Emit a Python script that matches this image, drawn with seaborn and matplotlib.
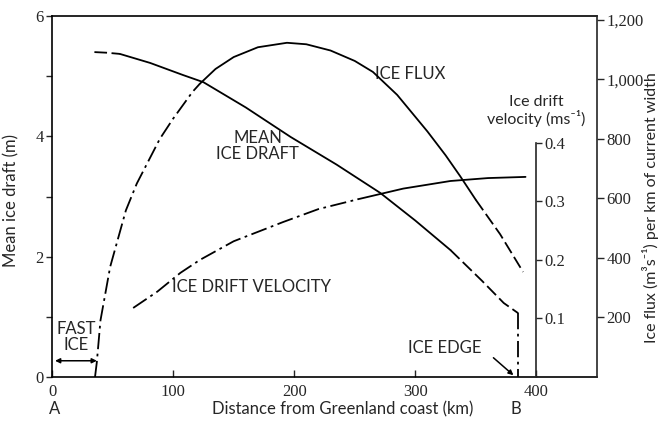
import matplotlib
matplotlib.use("Agg")
import matplotlib.pyplot as plt
from matplotlib.ticker import MultipleLocator, FixedLocator, FuncFormatter
import seaborn as sns

# Mean ice draft (m) vs distance from coast (km); last point is the drop at the ice edge
draft_km = [35, 45, 56, 81, 108, 125, 160, 197, 235, 271, 300, 329, 355, 373, 385, 385]
draft_m = [5.40, 5.39, 5.37, 5.22, 5.02, 4.90, 4.48, 3.99, 3.53, 3.06, 2.60, 2.11, 1.60, 1.23, 1.06, 0.0]

# Ice flux (m3 s-1 per km of current width)
flux_km = [35.5, 37, 40, 48, 61, 70, 89, 100, 116, 122, 135, 150, 170, 194, 210, 230,
           250, 265, 285, 310, 325, 337, 350, 370, 389]
flux = [0, 50, 190, 370, 560, 650, 800, 868, 958, 985, 1035, 1075, 1108, 1123, 1118, 1097,
        1062, 1025, 948, 825, 745, 675, 595, 480, 353]

# Ice drift velocity (m s-1)
vel_km = [67, 87, 106, 122, 150, 191, 220, 253, 290, 329, 360, 391]
vel = [0.118, 0.146, 0.178, 0.200, 0.232, 0.265, 0.287, 0.304, 0.322, 0.335, 0.340, 0.342]

x_ticks = [0, 100, 200, 300, 400]
draft_ticks = [0, 2, 4, 6]
flux_ticks = [200, 400, 600, 800, 1000, 1200]
vel_ticks = [0.1, 0.2, 0.3, 0.4]

sns.set_style("ticks")
plt.rcParams["font.family"] = ["Liberation Serif", "DejaVu Serif"]
sans = ["Lato", "DejaVu Sans"]

fig = plt.figure(figsize=(6.67, 4.21), dpi=100)
ax = fig.add_axes([0.078, 0.1045, 0.817, 0.8575])
ax_flux = ax.twinx()
ax_vel = ax.twinx()

dashdot = (0, (9, 2.5, 1.5, 2.5))
dashed = (0, (7, 2.5))
lw = 1.3


def piece(axis, xs, ys, ls):
    sns.lineplot(x=xs, y=ys, ax=axis, color="black", lw=lw, linestyle=ls,
                 sort=False, estimator=None)


# mean ice draft
piece(ax, draft_km[0:3], draft_m[0:3], dashed)
piece(ax, draft_km[2:12], draft_m[2:12], "-")
piece(ax, draft_km[11:15], draft_m[11:15], dashed)
piece(ax, draft_km[14:], draft_m[14:], dashdot)

# ice flux
piece(ax_flux, flux_km[0:10], flux[0:10], dashdot)
piece(ax_flux, flux_km[9:23], flux[9:23], "-")
piece(ax_flux, flux_km[22:], flux[22:], dashed)

# drift velocity
piece(ax_vel, vel_km[0:8], vel[0:8], dashdot)
piece(ax_vel, vel_km[7:], vel[7:], "-")

# limits
ax.set_xlim(0, 450)
ax.set_ylim(0, 6)
ax_flux.set_ylim(0, 1213)
ax_vel.set_ylim(0, 0.617)

# main axes
ax.set_xticks(x_ticks)
ax.set_yticks(draft_ticks)
ax.yaxis.set_minor_locator(MultipleLocator(1))
ax.tick_params(axis="x", direction="in", length=5, width=1, pad=5, labelsize=12)
ax.tick_params(axis="y", which="both", direction="out", length=4, width=1, pad=2, labelsize=12)
for s in ["left", "bottom", "top"]:
    ax.spines[s].set_linewidth(1.2)
    ax.spines[s].set_color("black")
ax.spines["right"].set_visible(False)
ax.set_xlabel("")
ax.set_ylabel("Mean ice draft (m)", fontsize=12, family=sans)
ax.yaxis.set_label_coords(-0.06, 0.49)

# flux axis
ax_flux.yaxis.set_major_locator(FixedLocator(flux_ticks))
ax_flux.yaxis.set_major_formatter(FuncFormatter(lambda v, p: f"{v:,.0f}"))
ax_flux.tick_params(axis="y", direction="out", length=5, width=1, pad=2, labelsize=12)
for s in ["left", "bottom", "top"]:
    ax_flux.spines[s].set_visible(False)
ax_flux.spines["right"].set_linewidth(1.2)
ax_flux.set_ylabel("Ice flux (m³s⁻¹) per km of current width", fontsize=11.5, family=sans)
ax_flux.yaxis.set_label_coords(1.083, 0.47)

# velocity axis
ax_vel.spines["right"].set_position(("data", 400))
ax_vel.spines["right"].set_bounds(0, 0.4)
ax_vel.spines["right"].set_linewidth(1.2)
for s in ["left", "bottom", "top"]:
    ax_vel.spines[s].set_visible(False)
ax_vel.yaxis.set_major_locator(FixedLocator(vel_ticks))
ax_vel.yaxis.set_major_formatter(FuncFormatter(lambda v, p: f"{v:.1f}"))
ax_vel.tick_params(axis="y", direction="out", length=4, width=1, pad=2, labelsize=12)
ax_vel.set_ylabel("")
ax.text(0.889, 0.737, "Ice drift\nvelocity (ms⁻¹)", transform=ax.transAxes,
        ha="center", va="center", fontsize=11.5, family=sans, linespacing=1.1)

# x labels
ax.text(0.534, -0.09, "Distance from Greenland coast (km)", transform=ax.transAxes,
        ha="center", va="center", fontsize=12, family=sans)
ax.text(2.5, -0.09, "A", transform=ax.get_xaxis_transform(), ha="center", va="center",
        fontsize=12, family=sans)
ax.text(383, -0.09, "B", transform=ax.get_xaxis_transform(), ha="center", va="center",
        fontsize=12, family=sans)

# curve annotations
ax.text(267, 5.04, "ICE FLUX", ha="left", va="center", fontsize=12, family=sans)
ax.text(170, 3.84, "MEAN\nICE DRAFT", ha="center", va="center", fontsize=12,
        family=sans, linespacing=1.0)
ax.text(99, 1.50, "ICE DRIFT VELOCITY", ha="left", va="center", fontsize=12, family=sans)
ax.text(20, 0.66, "FAST\nICE", ha="center", va="center", fontsize=12, family=sans,
        linespacing=1.0)
ax.text(294, 0.48, "ICE EDGE", ha="left", va="center", fontsize=12, family=sans)
ax.annotate("", xy=(2.5, 0.27), xytext=(37, 0.27),
            arrowprops=dict(arrowstyle="<|-|>", color="black", lw=1.1, mutation_scale=7,
                            shrinkA=0, shrinkB=0))
ax.annotate("", xy=(381, 0.03), xytext=(364.5, 0.32),
            arrowprops=dict(arrowstyle="-|>", color="black", lw=1.1, mutation_scale=7,
                            shrinkA=0, shrinkB=0))

fig.savefig("out.png", dpi=100, facecolor="white")
